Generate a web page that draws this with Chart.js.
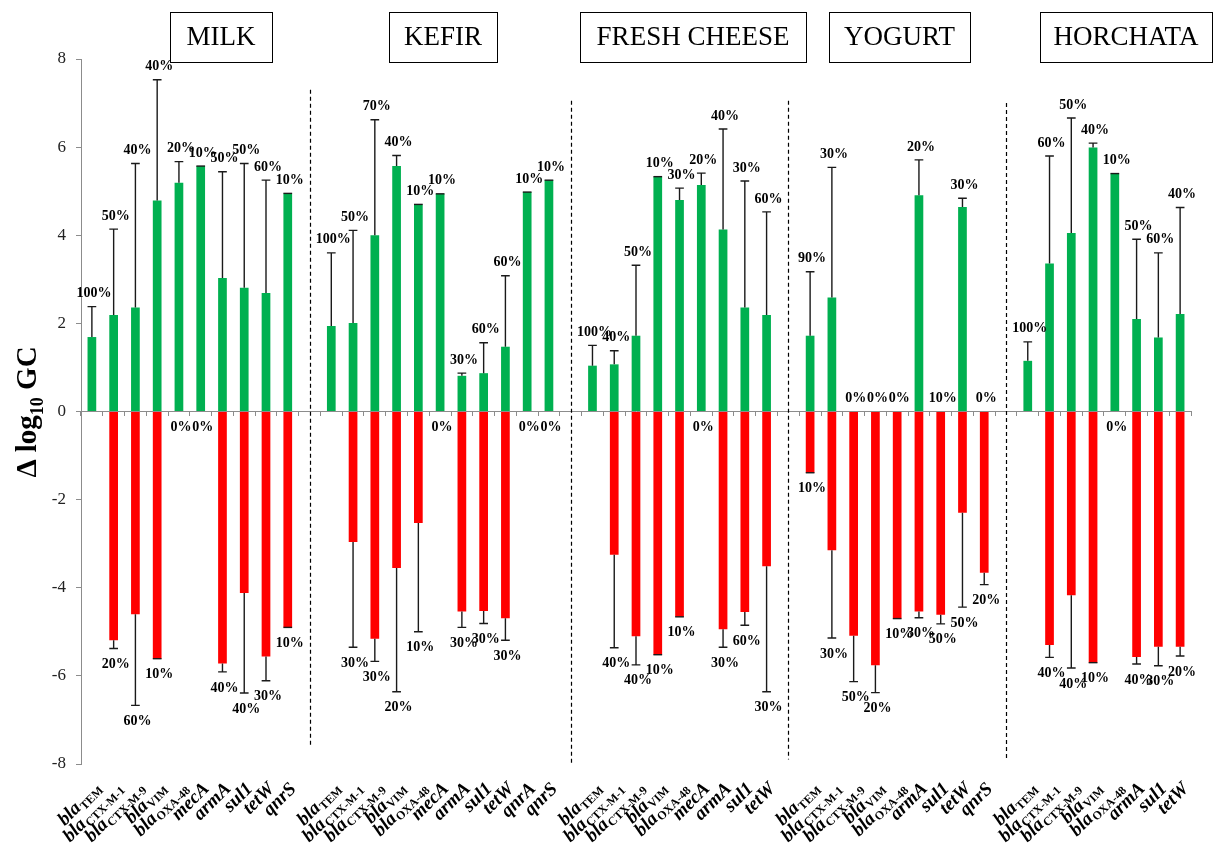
<!DOCTYPE html>
<html>
<head>
<meta charset="utf-8">
<script src="https://cdn.jsdelivr.net/npm/chart.js@4.4.0/dist/chart.umd.min.js"></script>
<style>
body { margin: 0; background: #fff; }
#wrap { width: 1215px; height: 847px; position: relative; }
</style>
</head>
<body>
<div id="wrap"><canvas id="chart-1"></canvas></div>
<script>

// sample groups (title boxes)
var groups = ['MILK', 'KEFIR', 'FRESH CHEESE', 'YOGURT', 'HORCHATA'];

// genes, '' = empty slot between groups
var genes = [
	'blaTEM', 'blaCTX-M-1', 'blaCTX-M-9', 'blaVIM', 'blaOXA-48', 'mecA', 'armA', 'sul1', 'tetW', 'qnrS', '',
	'blaTEM', 'blaCTX-M-1', 'blaCTX-M-9', 'blaVIM', 'blaOXA-48', 'mecA', 'armA', 'sul1', 'tetW', 'qnrA', 'qnrS', '',
	'blaTEM', 'blaCTX-M-1', 'blaCTX-M-9', 'blaVIM', 'blaOXA-48', 'mecA', 'armA', 'sul1', 'tetW', '',
	'blaTEM', 'blaCTX-M-1', 'blaCTX-M-9', 'blaVIM', 'blaOXA-48', 'armA', 'sul1', 'tetW', 'qnrS', '',
	'blaTEM', 'blaCTX-M-1', 'blaCTX-M-9', 'blaVIM', 'blaOXA-48', 'armA', 'sul1', 'tetW'
];

// increase (green)
var posVals = [
	1.69, 2.19, 2.36, 4.79, 5.19, 5.57, 3.03, 2.81, 2.69, 4.95, null,
	1.94, 2.01, 4.00, 5.57, 4.70, 4.94, 0.81, 0.87, 1.47, 4.98, 5.25, null,
	1.04, 1.07, 1.72, 5.33, 4.80, 5.14, 4.13, 2.36, 2.19, null,
	1.72, 2.59, 0, 0, 0, 4.91, 0, 4.64, 0, null,
	1.15, 3.36, 4.05, 5.99, 5.40, 2.10, 1.68, 2.21
];
var posErr = [
	0.69, 1.95, 3.27, 2.74, 0.48, 0, 2.41, 2.82, 2.56, 0, null,
	1.66, 2.10, 2.62, 0.24, 0, 0, 0.06, 0.69, 1.61, 0, 0, null,
	0.46, 0.31, 1.60, 0, 0.27, 0.27, 2.28, 2.87, 2.34, null,
	1.45, 2.95, null, null, null, 0.80, null, 0.20, null, null,
	0.43, 2.44, 2.61, 0.10, 0, 1.81, 1.92, 2.42
];
var posPct = [
	100, 50, 40, 40, 20, 10, 50, 50, 60, 10, null,
	100, 50, 70, 40, 10, 10, 30, 60, 60, 10, 10, null,
	100, 40, 50, 10, 30, 20, 40, 30, 60, null,
	90, 30, 0, 0, 0, 20, 10, 30, 0, null,
	100, 60, 50, 40, 10, 50, 60, 40
];

// decrease (red)
var negVals = [
	null, -5.19, -4.60, -5.61, 0, 0, -5.72, -4.12, -5.56, -4.90, null,
	null, -2.96, -5.16, -3.55, -2.53, 0, -4.54, -4.53, -4.69, 0, 0, null,
	null, -3.25, -5.10, -5.52, -4.66, 0, -4.94, -4.55, -3.51, null,
	-1.39, -3.15, -5.09, -5.76, -4.70, -4.54, -4.61, -2.30, -3.66, null,
	null, -5.30, -4.17, -5.70, 0, -5.57, -5.34, -5.34
];
var negErr = [
	null, 0.19, 2.07, 0, null, null, 0.19, 2.27, 0.55, 0, null,
	null, 2.39, 0.51, 2.81, 2.47, null, 0.36, 0.28, 0.50, null, null, null,
	null, 2.11, 0.65, 0, 0, null, 0.41, 0.30, 2.85, null,
	0, 1.99, 1.04, 0.62, 0, 0.14, 0.21, 2.14, 0.27, null,
	null, 0.28, 1.65, 0, null, 0.16, 0.43, 0.21
];
var negPct = [
	null, 20, 60, 10, 0, 0, 40, 40, 30, 10, null,
	null, 30, 30, 20, 10, 0, 30, 30, 30, 0, 0, null,
	null, 40, 40, 10, 10, 0, 30, 60, 30, null,
	10, 30, 50, 20, 10, 30, 50, 50, 20, null,
	null, 40, 40, 10, 0, 40, 30, 20
];

var yTicks = [-8, -6, -4, -2, 0, 2, 4, 6, 8];

var serif = "'Liberation Serif', 'Times New Roman', serif";

//Error bars and percent labels
var errorBars = {
	id: 'errorBars',
	afterDatasetsDraw: function(chart) {
		var ctx = chart.ctx;
		var xs = chart.scales.x, ys = chart.scales.y;
		var half = (xs.width / genes.length) * 0.4 / 2;
		var sets = [[posVals, posErr, posPct, 1], [negVals, negErr, negPct, -1]];
		ctx.save();
		ctx.strokeStyle = '#1a1a1a';
		ctx.lineWidth = 1.4;
		ctx.fillStyle = '#000';
		ctx.font = 'bold 14px ' + serif;
		ctx.textAlign = 'center';
		ctx.textBaseline = 'middle';
		sets.forEach(function(s) {
			for (var i = 0; i < genes.length; i++) {
				var v = s[0][i], e = s[1][i], p = s[2][i], dir = s[3];
				if (v === null) continue;
				var x = xs.getPixelForValue(i);
				var end = v;
				if (e !== null) {
					end = v + dir * e;
					var y0 = ys.getPixelForValue(v), y1 = ys.getPixelForValue(end);
					ctx.beginPath();
					ctx.moveTo(x, y0);
					ctx.lineTo(x, y1);
					ctx.moveTo(x - half, y1);
					ctx.lineTo(x + half, y1);
					ctx.stroke();
				}
				if (p !== null) {
					var ly = ys.getPixelForValue(end) + (dir > 0 ? -13 : 16);
					ctx.fillText(p + '%', x + 2, ly);
				}
			}
		});
		ctx.restore();
	}
};

//Dashed separators, titles, axis labels
var decorations = {
	id: 'decorations',
	afterDraw: function(chart) {
		var ctx = chart.ctx;
		var xs = chart.scales.x, ys = chart.scales.y;
		ctx.save();

		// dashed lines in the empty slots
		var tops = [7.3, 7.05, 7.05, 7.0];
		var bottoms = [-7.6, -8, -7.9, -7.9];
		var k = 0;
		ctx.strokeStyle = '#000';
		ctx.lineWidth = 1.2;
		ctx.setLineDash([4, 3]);
		genes.forEach(function(g, i) {
			if (g !== '') return;
			var x = Math.round(xs.getPixelForValue(i)) + 0.5;
			ctx.beginPath();
			ctx.moveTo(x, ys.getPixelForValue(tops[k]));
			ctx.lineTo(x, ys.getPixelForValue(bottoms[k]));
			ctx.stroke();
			k++;
		});
		ctx.setLineDash([]);

		// title boxes
		var boxes = [[170, 272], [389, 497], [580, 806], [829, 970], [1040, 1212]];
		ctx.lineWidth = 1;
		ctx.font = '27px ' + serif;
		ctx.textAlign = 'center';
		ctx.textBaseline = 'middle';
		groups.forEach(function(name, i) {
			var b = boxes[i];
			ctx.strokeRect(b[0] + 0.5, 12.5, b[1] - b[0], 50);
			ctx.fillText(name, (b[0] + b[1]) / 2, 38);
		});

		// gene labels, bla + subscript
		var mainFont = 'italic bold 19px ' + serif;
		var subFont = 'bold 12px ' + serif;
		ctx.textAlign = 'left';
		ctx.textBaseline = 'alphabetic';
		genes.forEach(function(g, i) {
			if (!g) return;
			var main = g, sub = '';
			if (g.indexOf('bla') === 0) {
				main = 'bla';
				sub = g.slice(3);
			}
			ctx.save();
			ctx.translate(xs.getPixelForValue(i) + 5, 784);
			ctx.rotate(-Math.PI / 4);
			ctx.font = subFont;
			var ws = sub ? ctx.measureText(sub).width : 0;
			ctx.font = mainFont;
			var wm = ctx.measureText(main).width;
			ctx.fillText(main, -ws - wm - 1, 7);
			if (sub) {
				ctx.font = subFont;
				ctx.fillText(sub, -ws, 10);
			}
			ctx.restore();
		});

		// y axis title
		ctx.save();
		ctx.translate(36, 412);
		ctx.rotate(-Math.PI / 2);
		var big = 'bold 29px ' + serif, small = 'bold 18px ' + serif;
		var parts = [['\u0394 log', big, 0], ['10', small, 7], [' GC', big, 0]];
		var total = 0;
		parts.forEach(function(p) { ctx.font = p[1]; total += ctx.measureText(p[0]).width; });
		var px = -total / 2;
		parts.forEach(function(p) {
			ctx.font = p[1];
			ctx.fillText(p[0], px, p[2]);
			px += ctx.measureText(p[0]).width;
		});
		ctx.restore();

		ctx.restore();
	}
};

var data1 = {
	labels: genes,
	datasets: [{
		label: 'Increase',
		data: posVals,
		backgroundColor: '#00B050',
		grouped: false,
		barPercentage: 0.4,
		categoryPercentage: 1.0
	}, {
		label: 'Decrease',
		data: negVals,
		backgroundColor: '#FF0000',
		grouped: false,
		barPercentage: 0.4,
		categoryPercentage: 1.0
	}]
};

var options1 = {
	responsive: true,
	maintainAspectRatio: false,
	animation: false,
	layout: {
		padding: { top: 59, right: 24, bottom: 83, left: 0 }
	},
	plugins: {
		legend: { display: false },
		tooltip: { enabled: false }
	},
	scales: {
		x: {
			position: { y: 0 },
			grid: {
				drawOnChartArea: false,
				offset: true,
				tickLength: 4,
				color: '#8c8c8c'
			},
			border: { color: '#8c8c8c' },
			ticks: { display: false },
			afterFit: function(scale) { scale.height = 0; }
		},
		y: {
			min: yTicks[0],
			max: yTicks[yTicks.length - 1],
			afterBuildTicks: function(scale) {
				scale.ticks = yTicks.map(function(v) { return { value: v }; });
			},
			grid: {
				drawOnChartArea: false,
				tickLength: 5,
				color: '#8c8c8c'
			},
			border: { color: '#8c8c8c' },
			ticks: {
				color: '#222',
				padding: 10,
				font: { family: serif, size: 17 }
			},
			afterFit: function(scale) { scale.width = 81; }
		}
	}
};

var graph = new Chart('chart-1', {
	type: 'bar',
	data: data1,
	options: options1,
	plugins: [errorBars, decorations]
});

</script>
</body>
</html>
